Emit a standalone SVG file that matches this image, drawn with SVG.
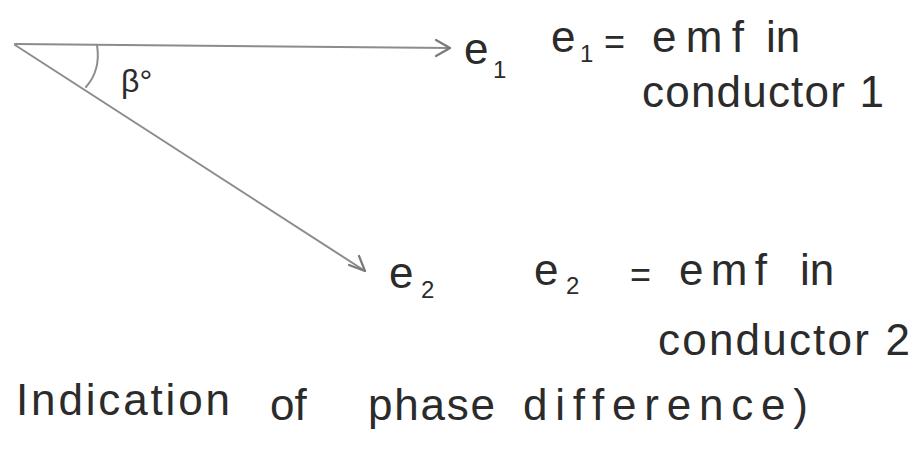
<svg xmlns="http://www.w3.org/2000/svg" width="919" height="451" viewBox="0 0 919 451">
<style>
  .ln{stroke:#8c8c8c;stroke-width:2;fill:none;stroke-linecap:round}
  .ah{stroke:#7a7a7a;stroke-width:2.2;fill:none;stroke-linecap:round;stroke-linejoin:round}
  .t{font-family:"Liberation Sans","DejaVu Sans",sans-serif;fill:#2b2b2b}
  .b{font-size:36px}
  .c{font-size:44px}
  .s{font-size:24px}
</style>
<rect width="919" height="451" fill="#ffffff"/>
<g id="connectors">
  <path d="M15,44 L450,48" class="ln"/>
  <path d="M436,40 L450,48 L436,56" class="ah"/>
  <path d="M15,45 L365,271" class="ln"/>
  <path d="M349,265 L365,271 L359,256" class="ah"/>
  <path d="M97,45 Q101,70 86,87" class="ln"/>
</g>
<g id="angle">
  <text class="t" x="121" y="92" font-size="32">β°</text>
</g>
<g id="e1">
  <text class="t c" x="464" y="64">e</text>
  <text class="t s" x="493" y="78">1</text>
</g>
<g id="e2">
  <text class="t c" x="389" y="288">e</text>
  <text class="t s" x="421" y="298">2</text>
</g>
<g id="legend1">
  <text class="t c" x="551" y="52">e</text>
  <text class="t s" x="580" y="62">1</text>
  <text class="t b" x="604" y="54">=</text>
  <text class="t c" x="652" y="52" textLength="92" lengthAdjust="spacing">emf</text>
  <text class="t c" x="766" y="52">in</text>
  <text class="t c" x="642" y="107" textLength="242" lengthAdjust="spacing">conductor 1</text>
</g>
<g id="legend2">
  <text class="t c" x="534" y="285">e</text>
  <text class="t s" x="566" y="294">2</text>
  <text class="t b" x="630" y="287">=</text>
  <text class="t c" x="679" y="285" textLength="88" lengthAdjust="spacing">emf</text>
  <text class="t c" x="800" y="285">in</text>
  <text class="t c" x="658" y="355" textLength="252" lengthAdjust="spacing">conductor 2</text>
</g>
<g id="caption">
  <text class="t c" x="16" y="415" textLength="214" lengthAdjust="spacing">Indication</text>
  <text class="t c" x="270" y="420">of</text>
  <text class="t c" x="368" y="420" textLength="127" lengthAdjust="spacing">phase</text>
  <text class="t c" x="523" y="420" textLength="285" lengthAdjust="spacing">difference)</text>
</g>
</svg>
